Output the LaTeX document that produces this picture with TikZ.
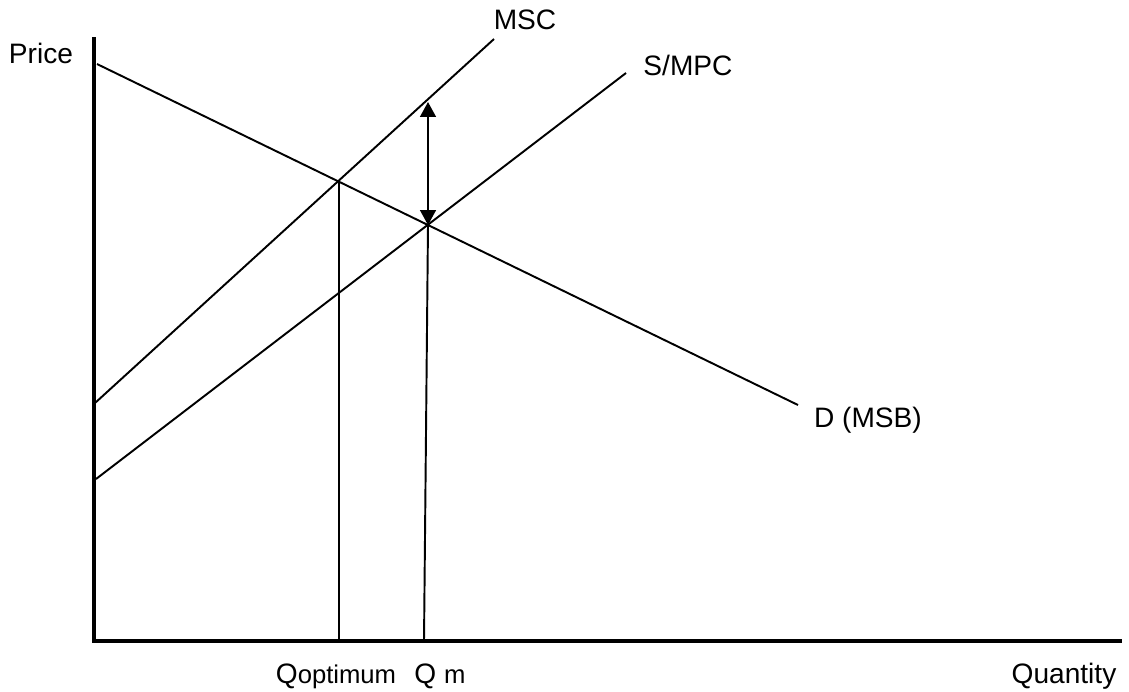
\documentclass[tikz,border=0pt]{standalone}
\usepackage{fontspec}
\setmainfont{Liberation Sans}
\usepackage{tikz}
\usetikzlibrary{
    arrows.meta,
    positioning,
    calc
}
\tikzset{
    axisline/.style={
        line width=2.2pt
    }
}
\tikzset{
    curveline/.style={
        line width=1.1pt
    }
}
\tikzset{
    curvelabel/.style={
        anchor=base,
        inner sep=0pt,
        font=\fontsize{16}{19}\selectfont
    }
}
\tikzset{
    gaparrow/.style={
        line width=1.1pt,
        {Triangle[length=8.5pt,width=9pt]}-{Triangle[length=8.5pt,width=9pt]}
    }
}
\newcommand{\subtext}[1]{{\fontsize{14.6}{16}\selectfont #1}}

\begin{document}
\begin{tikzpicture}[
    x=0.02cm,
    y=-0.02cm
]

\useasboundingbox (0,0) rectangle (1129,691);

% =========================================================
% Axes
% =========================================================

\coordinate (origin) at (94,641);
\coordinate (ytop)   at (94,37);
\coordinate (xend)   at (1122,641);

\draw[axisline] (ytop) -- (origin) -- (xend);

\node[curvelabel] (price)    at (41,63)   {Price};
\node[curvelabel] (quantity) at (1064,683) {Quantity};


% =========================================================
% Curves
% =========================================================

\coordinate (dstart)   at (97,64);
\coordinate (dend)     at (798,405);
\coordinate (mscstart) at (95,403);
\coordinate (mscend)   at (494,39);
\coordinate (mpcstart) at (96,479);
\coordinate (mpcend)   at (626,73);

\draw[curveline] (dstart) -- (dend);
\draw[curveline] (mscstart) -- (mscend);
\draw[curveline] (mpcstart) -- (mpcend);

\node[curvelabel] (msc)  at (525,29)  {MSC};
\node[curvelabel] (smpc) at (688,75)  {S/MPC};
\node[curvelabel] (dmsb) at (868,427) {D (MSB)};


% =========================================================
% Equilibria
% =========================================================

\coordinate (opt)    at (339,182);
\coordinate (mkt)    at (428,225);
\coordinate (msctop) at (428,102);
\coordinate (qoptx)  at (339,641);
\coordinate (qmx)    at (424,641);

\draw[curveline] (opt) -- (qoptx);
\draw[curveline] (mkt) -- (qmx);
\draw[gaparrow] (msctop) -- (mkt);

\node[curvelabel] (qopt) at (336,683) {Q\subtext{optimum}};
\node[curvelabel] (qm)   at (440,683) {Q \subtext{m}};

\end{tikzpicture}
\end{document}
